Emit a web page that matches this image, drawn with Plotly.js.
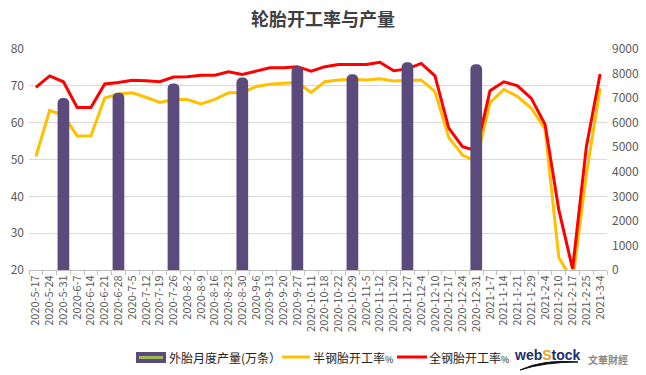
<!DOCTYPE html>
<html><head><meta charset="utf-8">
<script src="https://cdn.plot.ly/plotly-3.0.1.min.js"></script>
<style>html,body{margin:0;padding:0;background:#fff}#c{width:646px;height:375px}</style>
</head><body><div id="c"></div>
<script>
const dates = ["2020-5-17","2020-5-24","2020-5-31","2020-6-7","2020-6-14","2020-6-21","2020-6-28","2020-7-5","2020-7-12","2020-7-19","2020-7-26","2020-8-2","2020-8-9","2020-8-16","2020-8-23","2020-8-30","2020-9-6","2020-9-13","2020-9-20","2020-9-27","2020-10-11","2020-10-18","2020-10-22","2020-10-29","2020-11-5","2020-11-12","2020-11-20","2020-11-27","2020-12-4","2020-12-10","2020-12-17","2020-12-24","2020-12-31","2021-1-7","2021-1-14","2021-1-21","2021-1-29","2021-2-4","2021-2-10","2021-2-17","2021-2-25","2021-3-4"];
const output = [null,null,7000,null,null,null,7220,null,null,null,7600,null,null,null,null,7840,null,null,null,8300,null,null,null,7970,null,null,null,8460,null,null,null,null,8380,null,null,null,null,null,null,null,null,null];
const semiSteel = [50.8,63.3,62.0,56.4,56.4,66.7,67.8,68.1,66.9,65.5,66.3,66.3,65.1,66.3,68.1,68.1,69.8,70.4,70.7,70.9,68.2,71.1,71.6,71.8,71.6,71.9,71.3,71.4,71.6,68.4,56.0,51.2,49.4,65.4,69.0,67.1,63.9,58.2,23.4,17.0,46.0,69.3];
const allSteel = [69.6,72.7,71.1,64.1,64.1,70.5,70.9,71.5,71.4,71.1,72.4,72.5,72.9,72.9,73.8,73.1,74.0,74.9,74.9,75.2,74.0,75.2,75.8,75.8,75.8,76.4,74.1,74.6,76.1,72.7,58.5,53.5,52.4,68.7,71.1,70.0,66.6,59.5,36.3,20.3,53.5,73.2];
const names = ["外胎月度产量(万条）","半钢胎开工率%","全钢胎开工率%"];
const colors = ["#5b4a7c","#ffc000","#ff0000"];

const font = "'Noto Sans CJK SC', 'Noto Sans', sans-serif";
const W = 646, H = 375, L = 29, R = 39, T = 49, B = 105;
const pw = W - L - R, ph = H - T - B;
const px = v => (v - L) / pw;          // pixel -> paper x
const py = v => (H - B - v) / ph;      // pixel -> paper y

const traces = [
  {type:"bar", x:dates, y:output, name:names[0], yaxis:"y2", marker:{color:colors[0], cornerradius:6}, width:0.85},
  {type:"scatter", mode:"lines", x:dates, y:semiSteel, name:names[1], line:{color:colors[1], width:3}},
  {type:"scatter", mode:"lines", x:dates, y:allSteel, name:names[2], line:{color:colors[2], width:3}}
];
const pct = s => s.replace("%", '<span style="font-size:9px">%</span>');
const layout = {
  width:W, height:H,
  margin:{l:L, r:R, t:T, b:B},
  paper_bgcolor:"#fff", plot_bgcolor:"#fff",
  font:{family:font, color:"#595959"},
  title:{text:"<b>轮胎开工率与产量</b>", x:0.5, xanchor:"center", y:1-20/H, yanchor:"middle", font:{size:18, color:"#404040", family:font}},
  showlegend:false,
  xaxis:{type:"category", tickangle:-90, tickfont:{size:11, color:"#595959"}, showline:true, linecolor:"#bfbfbf", linewidth:1, ticks:"outside", tickson:"boundaries", ticklen:4, tickcolor:"#bfbfbf", showgrid:false, automargin:false},
  yaxis:{range:[20,80], dtick:10, tickfont:{size:12, color:"#595959"}, gridcolor:"#d9d9d9", showline:false, zeroline:false, automargin:false, ticklabelstandoff:4},
  yaxis2:{range:[0,9000], dtick:1000, overlaying:"y", side:"right", showgrid:false, zeroline:false, tickfont:{size:12, color:"#595959"}, automargin:false, ticklabelstandoff:4},
  shapes:[
    {type:"rect", xref:"paper", yref:"paper", x0:px(136), x1:px(166), y0:py(363), y1:py(352), fillcolor:colors[0], line:{width:0}},
    {type:"line", xref:"paper", yref:"paper", x0:px(139), x1:px(163), y0:py(357.5), y1:py(357.5), line:{color:"#9bbb59", width:3}},
    {type:"line", xref:"paper", yref:"paper", x0:px(282), x1:px(310), y0:py(357), y1:py(357), line:{color:colors[1], width:3}},
    {type:"line", xref:"paper", yref:"paper", x0:px(397), x1:px(427), y0:py(357), y1:py(357), line:{color:colors[2], width:3}},
    {type:"path", xref:"paper", yref:"paper", path:`M ${px(520)} ${py(370)} Q ${px(543)} ${py(359)} ${px(578)} ${py(362)} Q ${px(545)} ${py(362)} ${px(520)} ${py(370)} Z`, fillcolor:"#111", line:{color:"#111", width:1}}
  ],
  annotations:[
    {xref:"paper", yref:"paper", x:px(167), y:py(357), xanchor:"left", yanchor:"middle", showarrow:false, text:names[0], font:{size:12, color:"#222", family:font}},
    {xref:"paper", yref:"paper", x:px(311), y:py(357), xanchor:"left", yanchor:"middle", showarrow:false, text:pct(names[1]), font:{size:12, color:"#222", family:font}},
    {xref:"paper", yref:"paper", x:px(427), y:py(357), xanchor:"left", yanchor:"middle", showarrow:false, text:pct(names[2]), font:{size:12, color:"#222", family:font}},
    {xref:"paper", yref:"paper", x:px(512), y:py(355), xanchor:"left", yanchor:"middle", showarrow:false, text:'<b>web<span style="color:#e8a317">S</span>tock</b>', font:{size:14, color:"#1c2f6b", family:"Arial, 'Liberation Sans', sans-serif"}},
    {xref:"paper", yref:"paper", x:px(586), y:py(359), xanchor:"left", yanchor:"middle", showarrow:false, text:"<b>文華財經</b>", font:{size:10, color:"#888", family:font}}
  ]
};
Plotly.newPlot("c", traces, layout, {displayModeBar:false, staticPlot:true});
</script>
</body></html>
